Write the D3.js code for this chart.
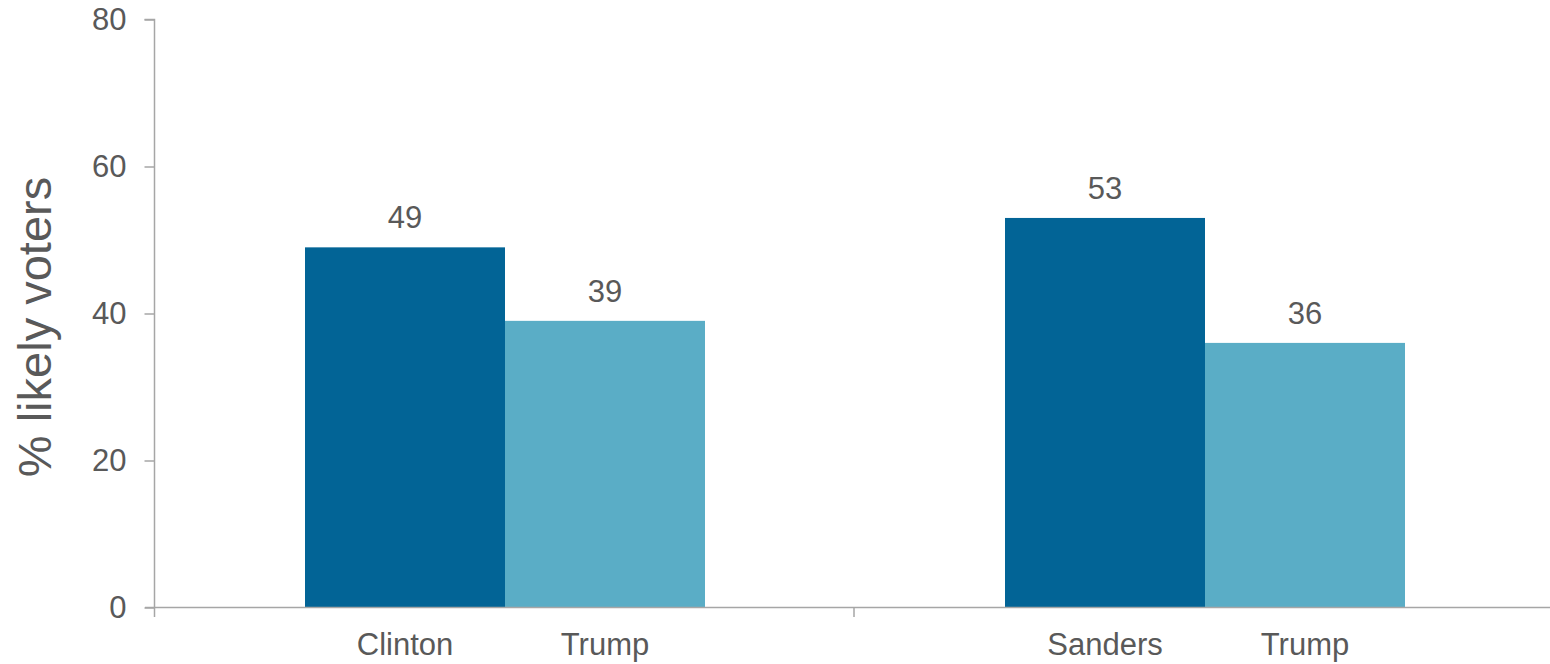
<!DOCTYPE html>
<html><head><meta charset="utf-8">
<script src="https://cdn.jsdelivr.net/npm/d3@7"></script>
<style>
html,body{margin:0;padding:0;background:#fff;}
svg{display:block;font-family:"Liberation Sans",Arial,sans-serif;}
</style></head>
<body>
<svg id="chart" width="1550" height="664"></svg>
<script>
const groups = ["Clinton vs Trump", "Sanders vs Trump"];
const candidates = [["Clinton", "Trump"], ["Sanders", "Trump"]];
const values = [[49, 39], [53, 36]];
const seriesKeys = ["Democrat", "Trump"];
const yTicks = [0, 20, 40, 60, 80];
const colors = ["#026496", "#5aadc6"];

const svg = d3.select("#chart");
const textColor = "#595959";
const axisColor = "#a6a6a6";
const x0 = d3.scaleBand().domain(d3.range(groups.length)).range([155, 1555]).padding(0);
const x1 = d3.scaleBand().domain(seriesKeys).range([0, x0.bandwidth()]).paddingInner(0).paddingOuter(0.75);
const y = d3.scaleLinear().domain([0, 80]).range([607.5, 19.5]);

// bars
groups.forEach((g, gi) => {
  const gEl = svg.append("g").attr("transform", `translate(${x0(gi)},0)`);
  seriesKeys.forEach((k, si) => {
    const v = values[gi][si];
    gEl.append("rect")
      .attr("x", x1(k)).attr("width", x1.bandwidth())
      .attr("y", y(v)).attr("height", y(0) - y(v))
      .attr("fill", colors[si]);
    gEl.append("text")
      .attr("x", x1(k) + x1.bandwidth() / 2)
      .attr("y", y(v) - 19)
      .attr("text-anchor", "middle")
      .attr("font-size", 31).attr("fill", textColor)
      .text(v);
    gEl.append("text")
      .attr("x", x1(k) + x1.bandwidth() / 2)
      .attr("y", 655)
      .attr("text-anchor", "middle")
      .attr("font-size", 31).attr("fill", textColor)
      .text(candidates[gi][si]);
  });
});

// y axis
const yAxis = svg.append("g").attr("transform", "translate(154.5,0)")
  .call(d3.axisLeft(y).tickValues(yTicks).tickSize(10).tickPadding(18));
yAxis.select(".domain").attr("stroke", axisColor).attr("stroke-width", 1.5).attr("d", "M-10,19.5H0V617");
yAxis.selectAll(".tick line").attr("stroke", axisColor).attr("stroke-width", 1.5);
yAxis.selectAll(".tick text").attr("font-size", 31).attr("fill", textColor).attr("font-family", "Liberation Sans, Arial, sans-serif");

// x axis
const xAxisG = svg.append("g");
xAxisG.append("line").attr("x1", 145).attr("x2", 1550).attr("y1", y(0)).attr("y2", y(0))
  .attr("stroke", axisColor).attr("stroke-width", 1.5);
const boundaries = d3.range(groups.length + 1).map(i => i < groups.length ? x0(i) : x0(i - 1) + x0.bandwidth());
xAxisG.selectAll(".xt").data(boundaries.slice(1, -1)).join("line")
  .attr("x1", d => d - 1).attr("x2", d => d - 1).attr("y1", y(0)).attr("y2", 617)
  .attr("stroke", axisColor).attr("stroke-width", 1.5);

// y title
svg.append("text")
  .attr("transform", "translate(51,327) rotate(-90)")
  .attr("text-anchor", "middle")
  .attr("font-size", 47).attr("fill", textColor)
  .text("% likely voters");
</script>
</body></html>
